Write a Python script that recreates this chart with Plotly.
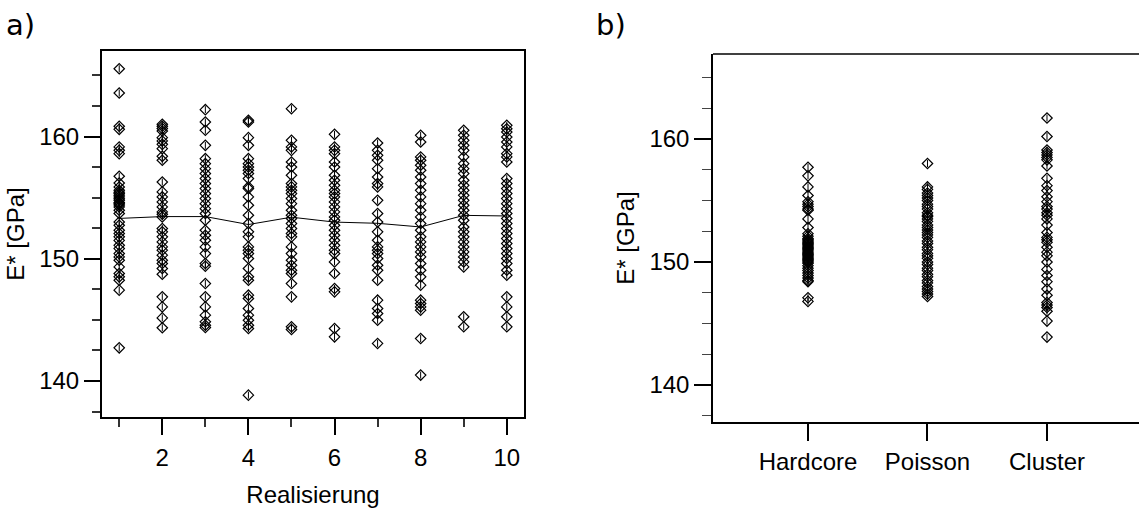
import plotly.graph_objects as go

# ---------------- data ----------------
realisierung = [1, 2, 3, 4, 5, 6, 7, 8, 9, 10]
mean_E = [153.3, 153.45, 153.45, 152.8, 153.4, 153.0, 152.9, 152.6, 153.55, 153.5]

real_1 = [165.55, 163.56, 160.84, 160.59, 159.15, 158.87, 158.6, 156.75, 156.2, 155.87, 155.6, 155.45,
          155.33, 155.2, 155.06, 154.9, 154.78, 154.6, 154.51, 154.4, 154.24, 153.97, 153.7, 153.01, 152.74,
          152.33, 152.06, 151.79, 151.5, 151.1, 150.83, 150.42, 150.15, 149.88, 149.33, 148.79, 148.52,
          148.24, 147.43, 142.71]
real_2 = [161.0, 160.84, 160.65, 160.45, 159.91, 159.64, 159.36, 159.01, 158.38, 158.06, 156.28, 155.47,
          155.06, 154.65, 154.24, 153.83, 153.64, 153.42, 152.47, 152.2, 151.79, 151.38, 150.97, 150.7,
          150.29, 149.88, 149.61, 149.2, 148.73, 146.88, 146.06, 145.16, 144.35]
real_3 = [162.2, 161.19, 160.51, 159.28, 158.19, 157.78, 157.37, 156.97, 156.56, 156.15, 155.74, 155.33,
          154.92, 154.51, 154.1, 153.7, 153.15, 152.33, 151.92, 151.51, 150.97, 150.42, 149.61, 149.39,
          147.97, 146.88, 146.06, 145.38, 144.84, 144.56, 144.37]
real_4 = [161.33, 161.19, 159.91, 159.28, 158.19, 157.78, 157.51, 157.24, 156.97, 156.56, 155.88, 155.74,
          155.06, 154.38, 153.56, 152.88, 152.2, 151.79, 150.97, 150.7, 150.42, 150.02, 149.2, 148.52,
          148.24, 147.02, 146.75, 145.93, 145.38, 144.97, 144.56, 144.29, 138.84]
real_5 = [162.28, 159.69, 159.15, 158.87, 157.92, 157.51, 156.83, 156.15, 155.88, 155.6, 155.33, 154.92,
          154.51, 153.97, 153.56, 153.29, 152.88, 152.47, 152.06, 151.79, 150.97, 150.42, 149.88, 149.47,
          149.06, 148.79, 147.97, 146.88, 144.43, 144.21]
real_6 = [160.18, 159.15, 158.87, 158.6, 157.92, 157.51, 156.83, 156.42, 156.01, 155.6, 155.33, 155.06,
          154.65, 154.24, 153.83, 153.42, 153.15, 152.74, 152.33, 151.92, 151.51, 151.1, 150.7, 150.42,
          149.74, 148.79, 147.56, 147.29, 144.29, 143.61]
real_7 = [159.47, 158.87, 158.46, 158.06, 157.37, 156.69, 156.15, 155.88, 154.78, 153.7, 153.01, 152.2,
          151.51, 150.97, 150.7, 150.42, 150.02, 149.47, 149.06, 148.24, 146.61, 145.93, 145.52, 144.97,
          143.07]
real_8 = [160.1, 159.55, 158.33, 158.06, 157.65, 157.24, 156.69, 156.15, 155.6, 155.06, 154.51, 153.97,
          153.42, 152.88, 152.33, 151.79, 151.38, 150.97, 150.56, 150.15, 149.61, 149.06, 148.52, 147.84,
          146.61, 146.34, 146.06, 145.79, 143.47, 140.48]
real_9 = [160.51, 160.1, 159.69, 159.28, 158.87, 158.33, 157.78, 157.37, 156.97, 156.42, 156.01, 155.6,
          155.19, 154.78, 154.38, 153.97, 153.56, 153.15, 152.6, 152.2, 151.79, 151.38, 150.97, 150.56,
          150.15, 149.74, 149.33, 145.25, 144.43]
real_10 = [160.92, 160.64, 160.37, 159.96, 159.55, 159.15, 158.6, 158.33, 157.92, 156.56, 156.15, 155.74,
           155.33, 154.92, 154.51, 154.1, 153.7, 153.29, 152.88, 152.47, 152.06, 151.65, 151.24, 150.83,
           150.42, 150.02, 149.61, 149.06, 148.65, 146.88, 146.06, 145.25, 144.43]
realisations = [real_1, real_2, real_3, real_4, real_5, real_6, real_7, real_8, real_9, real_10]

models = ["Hardcore", "Poisson", "Cluster"]
hardcore = [157.7, 157.0, 156.1, 155.4, 154.9, 154.7, 154.5, 154.3, 154.2, 153.5, 152.8, 152.3, 152.1,
            151.9, 151.8, 151.7, 151.6, 151.5, 151.4, 151.3, 151.2, 151.1, 151.0, 150.9, 150.8, 150.7,
            150.6, 150.5, 150.4, 150.3, 150.2, 150.1, 150.0, 149.9, 149.7, 149.5, 149.3, 149.1, 148.9,
            148.7, 148.5, 148.4, 147.1, 146.8]
poisson = [158.0, 156.1, 155.9, 155.6, 155.4, 155.2, 155.0, 154.7, 154.5, 154.3, 154.0, 153.8, 153.7,
           153.5, 153.3, 153.0, 152.8, 152.6, 152.4, 152.2, 152.0, 151.7, 151.5, 151.2, 151.0, 150.7,
           150.5, 150.3, 150.0, 149.8, 149.5, 149.3, 149.0, 148.8, 148.5, 148.3, 148.0, 147.8, 147.6,
           147.4, 147.2]
cluster = [161.7, 160.2, 159.1, 158.9, 158.7, 158.5, 158.3, 157.8, 156.8, 156.2, 155.8, 155.3, 154.9,
           154.5, 154.3, 154.0, 153.8, 153.5, 153.0, 152.4, 152.0, 151.8, 151.6, 151.2, 150.8, 150.5,
           150.0, 149.4, 148.9, 148.4, 147.8, 147.3, 146.7, 146.5, 146.3, 146.0, 145.2, 143.9]
model_values = [hardcore, poisson, cluster]

# ---------------- figure ----------------
FONT = "Liberation Sans, Arial, Helvetica, sans-serif"
LABEL_FONT = "DejaVu Sans, Open Sans, sans-serif"
diamond = dict(symbol="diamond-open", size=8, color="black", line=dict(width=1.2, color="black"))
stroke = dict(symbol="line-ns-open", size=5, color="black", line=dict(width=1, color="black"))

fig = go.Figure()

for xv, vals in zip(realisierung, realisations):
    fig.add_trace(go.Scatter(x=[xv] * len(vals), y=vals, mode="markers", marker=diamond,
                             showlegend=False, xaxis="x", yaxis="y"))
    fig.add_trace(go.Scatter(x=[xv] * len(vals), y=vals, mode="markers", marker=stroke,
                             showlegend=False, xaxis="x", yaxis="y"))
fig.add_trace(go.Scatter(x=realisierung, y=mean_E, mode="lines", line=dict(color="black", width=1),
                         showlegend=False, xaxis="x", yaxis="y"))

for i, vals in enumerate(model_values):
    fig.add_trace(go.Scatter(x=[i] * len(vals), y=vals, mode="markers", marker=diamond,
                             showlegend=False, xaxis="x2", yaxis="y2"))
    fig.add_trace(go.Scatter(x=[i] * len(vals), y=vals, mode="markers", marker=stroke,
                             showlegend=False, xaxis="x2", yaxis="y2"))

tickfont = dict(family=FONT, size=24, color="black")

fig.update_layout(
    width=1139, height=511,
    margin=dict(l=0, r=0, t=0, b=0),
    paper_bgcolor="white", plot_bgcolor="white",
    font=dict(family=FONT, size=24, color="black"),
    xaxis=dict(domain=[102 / 1139, 524 / 1139], range=[0.6, 10.4], tickmode="linear", tick0=0, dtick=2,
               ticks="outside", ticklen=16, tickwidth=2, tickcolor="black",
               minor=dict(dtick=1, tick0=0, ticks="outside", ticklen=8, tickwidth=1.5, tickcolor="#333"),
               showline=True, linewidth=2, linecolor="black", mirror=True, showgrid=False, zeroline=False,
               tickfont=tickfont, ticklabelstandoff=2,
               title=dict(text="Realisierung", font=tickfont, standoff=16), anchor="y"),
    yaxis=dict(domain=[1 - 417 / 511, 1 - 51 / 511], range=[137.05, 167.0], tickmode="linear", tick0=0,
               dtick=10, ticks="outside", ticklen=16, tickwidth=2, tickcolor="black",
               minor=dict(dtick=2.5, tick0=0, ticks="outside", ticklen=8, tickwidth=1.5, tickcolor="#333"),
               showline=True, linewidth=2, linecolor="black", mirror=True, showgrid=False, zeroline=False,
               tickfont=tickfont, title=dict(text="E* [GPa]", font=tickfont, standoff=8), anchor="x"),
    xaxis2=dict(domain=[713 / 1139, 1.0], range=[-0.795, 2.77], tickmode="array", tickvals=[0, 1, 2],
                ticktext=models, ticks="outside", ticklen=17, tickwidth=1.5, tickcolor="black",
                showline=True, linewidth=1.5, linecolor="black", mirror=False, showgrid=False,
                zeroline=False, tickfont=tickfont, anchor="y2"),
    yaxis2=dict(domain=[1 - 422 / 511, 1 - 54 / 511], range=[137.0, 166.9], tickmode="linear", tick0=0,
                dtick=10, ticks="outside", ticklen=17, tickwidth=2, tickcolor="black",
                minor=dict(dtick=2.5, tick0=0, ticks="outside", ticklen=9, tickwidth=1.2, tickcolor="#444"),
                showline=True, linewidth=1.5, linecolor="black", mirror=False, showgrid=False,
                zeroline=False, tickfont=tickfont, title=dict(text="E* [GPa]", font=tickfont, standoff=8),
                anchor="x2"),
    shapes=[dict(type="line", xref="x2 domain", yref="y2 domain", x0=0, x1=1, y0=1, y1=1,
                 line=dict(color="black", width=1.5))],
    annotations=[
        dict(text="a)", x=4 / 1139, y=1 - 6 / 511, xref="paper", yref="paper", xanchor="left",
             yanchor="top", showarrow=False, font=dict(family=LABEL_FONT, size=29, color="black")),
        dict(text="b)", x=594 / 1139, y=1 - 6 / 511, xref="paper", yref="paper", xanchor="left",
             yanchor="top", showarrow=False, font=dict(family=LABEL_FONT, size=29, color="black")),
    ],
)

fig.write_html("out.html")
